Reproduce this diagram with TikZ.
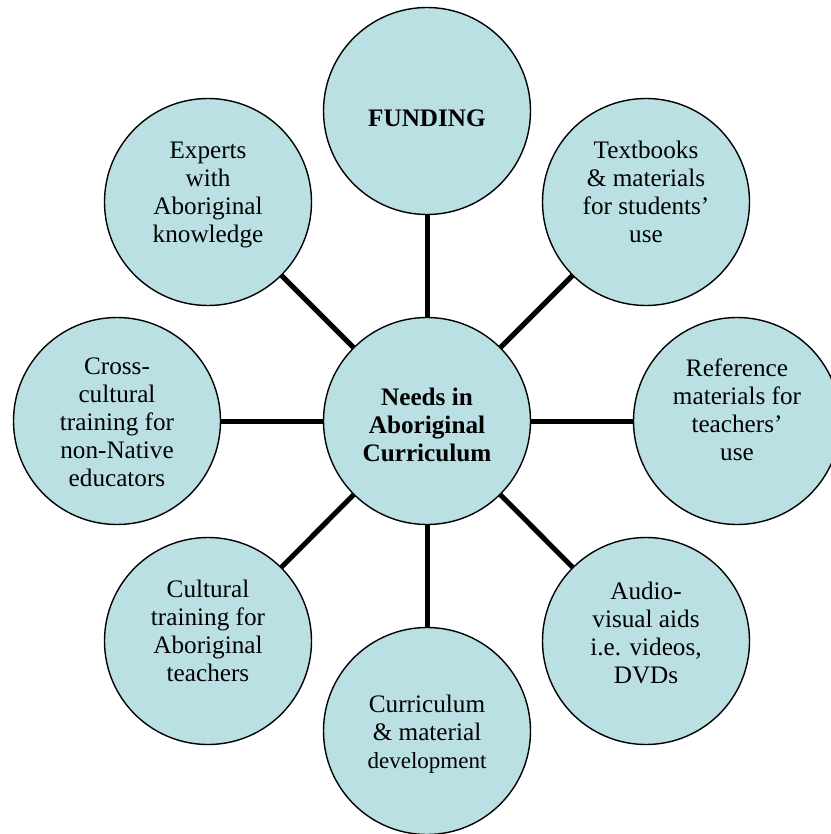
\documentclass[tikz,border=0pt]{standalone}
\usepackage{fontspec}
\setmainfont{Liberation Serif}
\usetikzlibrary{positioning}
\definecolor{bubblefill}{RGB}{186,224,228}
\tikzset{%
	bubble/.style = {draw, circle, fill=bubblefill, line width=0.7pt, minimum size=103.5pt, inner sep=0pt}, % Circle
	txt/.style    = {align=center, inner sep=0pt, font=\fontsize{12.6}{14}\selectfont}, % Text in a circle
	link/.style   = {line width=2.5pt}, % Spoke
}

\begin{document}
\begin{tikzpicture}[x=0.5pt,y=-0.5pt]
		\useasboundingbox (0,0) rectangle (830,834);
		\node[bubble, label={[txt,yshift=-2pt]center:{\textbf{Needs in}\\\textbf{Aboriginal}\\\textbf{Curriculum}}}] (hub) at (427,421) {};
		\node[bubble, label={[txt,yshift=-3.5pt]center:{\textbf{FUNDING}}}] (fund) at (427,111) {};
		\node[bubble, label={[txt,yshift=5pt]center:{Textbooks\\\& materials\\for students’\\use}}] (books) at (646,202) {};
		\node[bubble, label={[txt,yshift=5.5pt]center:{Reference\\materials for\\teachers’\\use}}] (refs) at (737,421) {};
		\node[bubble, label={[txt,yshift=4pt]center:{Audio-\\visual aids\\i.e. videos,\\DVDs}}] (media) at (646,641) {};
		\node[bubble, label={[txt,yshift=-1.5pt]center:{Curriculum\\\& material\\{\fontsize{11.5}{14}\selectfont development}}}] (devel) at (427,731) {};
		\node[bubble, label={[txt,yshift=5pt]center:{Cultural\\training for\\Aboriginal\\teachers}}] (train) at (208,641) {};
		\node[bubble, label={[txt,yshift=-0.5pt]center:{Cross-\\cultural\\training for\\non-Native\\educators}}] (cross) at (117,421) {};
		\node[bubble, label={[txt,yshift=3.5pt]center:{Experts\\with\\Aboriginal\\knowledge}}] (experts) at (208,202) {};
		\foreach \n in {fund,books,refs,media,devel,train,cross,experts}
			\draw[link] (hub) -- (\n);
\end{tikzpicture}
\end{document}
